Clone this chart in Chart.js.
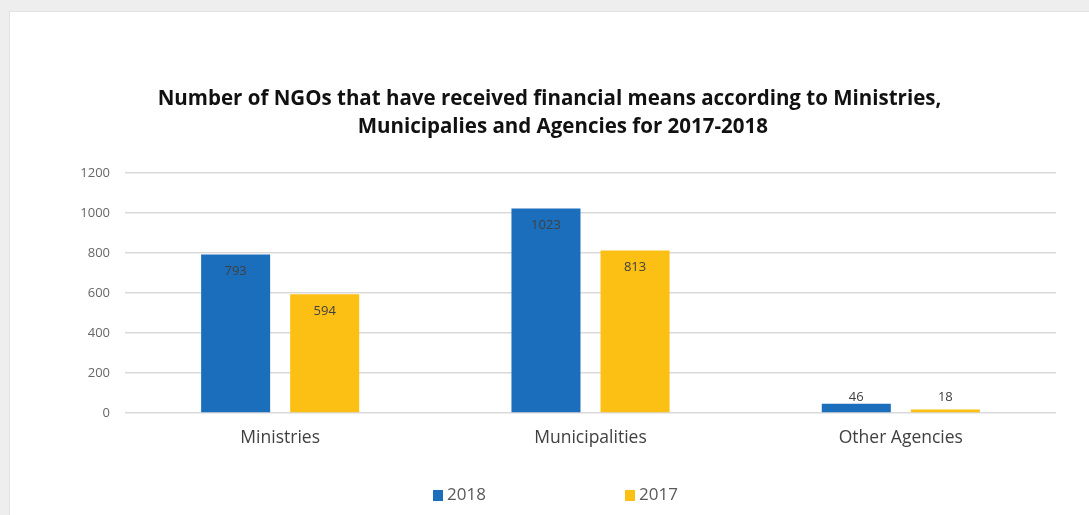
<!DOCTYPE html>
<html>
<head>
<meta charset="utf-8">
<script src="https://cdn.jsdelivr.net/npm/chart.js@4.4.1/dist/chart.umd.min.js"></script>
<style>
  html, body { margin:0; padding:0; width:1089px; height:515px; overflow:hidden; background:#eeeeee; }
  #card { position:absolute; left:9px; top:11px; width:1100px; height:520px; background:#ffffff; border:1px solid #e2e2e2; box-sizing:border-box; }
  #wrap { position:absolute; left:0; top:0; width:1089px; height:515px; }
</style>
</head>
<body>
<div id="card"></div>
<div id="wrap"><canvas id="c" width="1089" height="515"></canvas></div>
<script>
const categories = ["Ministries", "Municipalities", "Other Agencies"];
const seriesLabels = ["2018", "2017"];
const values2018 = [793, 1023, 46];
const values2017 = [594, 813, 18];
const yTicks = [0, 200, 400, 600, 800, 1000, 1200];
const titleLines = ["Number of NGOs that have received financial means according to Ministries,", "\u00a0\u00a0\u00a0\u00a0\u00a0Municipalies and Agencies for 2017-2018"];

const FONT = "'Open Sans', sans-serif";
const BLUE = "#1b6ebc";
const YELLOW = "#fcbf14";

const dataLabelPlugin = {
  id: 'dataLabels',
  afterDatasetsDraw(chart) {
    const ctx = chart.ctx;
    ctx.save();
    ctx.font = "13px " + FONT;
    ctx.fillStyle = "#404040";
    ctx.textAlign = "center";
    ctx.textBaseline = "middle";
    chart.data.datasets.forEach((ds, i) => {
      const meta = chart.getDatasetMeta(i);
      meta.data.forEach((bar, j) => {
        const h = bar.base - bar.y;
        const y = h > 30 ? bar.y + 17 : bar.base - 15;
        ctx.fillText(String(ds.data[j]), bar.x, y);
      });
    });
    ctx.restore();
  }
};

const legendPlugin = {
  id: 'customLegend',
  afterDraw(chart) {
    const ctx = chart.ctx;
    ctx.save();
    ctx.font = "17px " + FONT;
    ctx.textBaseline = "middle";
    ctx.textAlign = "left";
    const xs = [433, 625];
    const y = 495;
    chart.data.datasets.forEach((ds, i) => {
      ctx.fillStyle = ds.backgroundColor;
      ctx.fillRect(xs[i], y - 5, 10, 11);
      ctx.fillStyle = "#595959";
      ctx.fillText(ds.label, xs[i] + 14, y);
    });
    ctx.restore();
  }
};

new Chart(document.getElementById('c'), {
  type: 'bar',
  data: {
    labels: categories,
    datasets: [
      { label: seriesLabels[0], data: values2018, backgroundColor: BLUE },
      { label: seriesLabels[1], data: values2017, backgroundColor: YELLOW }
    ]
  },
  options: {
    responsive: false,
    animation: false,
    devicePixelRatio: 1,
    categoryPercentage: 0.574,
    barPercentage: 0.775,
    layout: { padding: { left: 43, right: 33, top: 0, bottom: 62 } },
    plugins: {
      legend: { display: false },
      tooltip: { enabled: false },
      title: {
        display: true,
        text: titleLines,
        color: "#111111",
        font: { family: FONT, size: 20.5, weight: 'bold', lineHeight: 1.366 },
        padding: { top: 85, bottom: 32 }
      }
    },
    scales: {
      x: {
        grid: { display: false, drawTicks: false },
        border: { display: false },
        ticks: { color: "#404040", font: { family: FONT, size: 17.5 }, padding: 15 },
        afterFit(s) { s.height = 40; }
      },
      y: {
        min: 0, max: 1200,
        afterBuildTicks(s) { s.ticks = yTicks.map(v => ({ value: v })); },
        grid: { color: "#d9d9d9", lineWidth: 1.5, drawTicks: false },
        border: { display: false },
        ticks: { color: "#666666", font: { family: FONT, size: 13 }, padding: 15, callback: (v) => String(v) },
        afterFit(s) { s.width = 82; }
      }
    }
  },
  plugins: [dataLabelPlugin, legendPlugin]
});
</script>
</body>
</html>
